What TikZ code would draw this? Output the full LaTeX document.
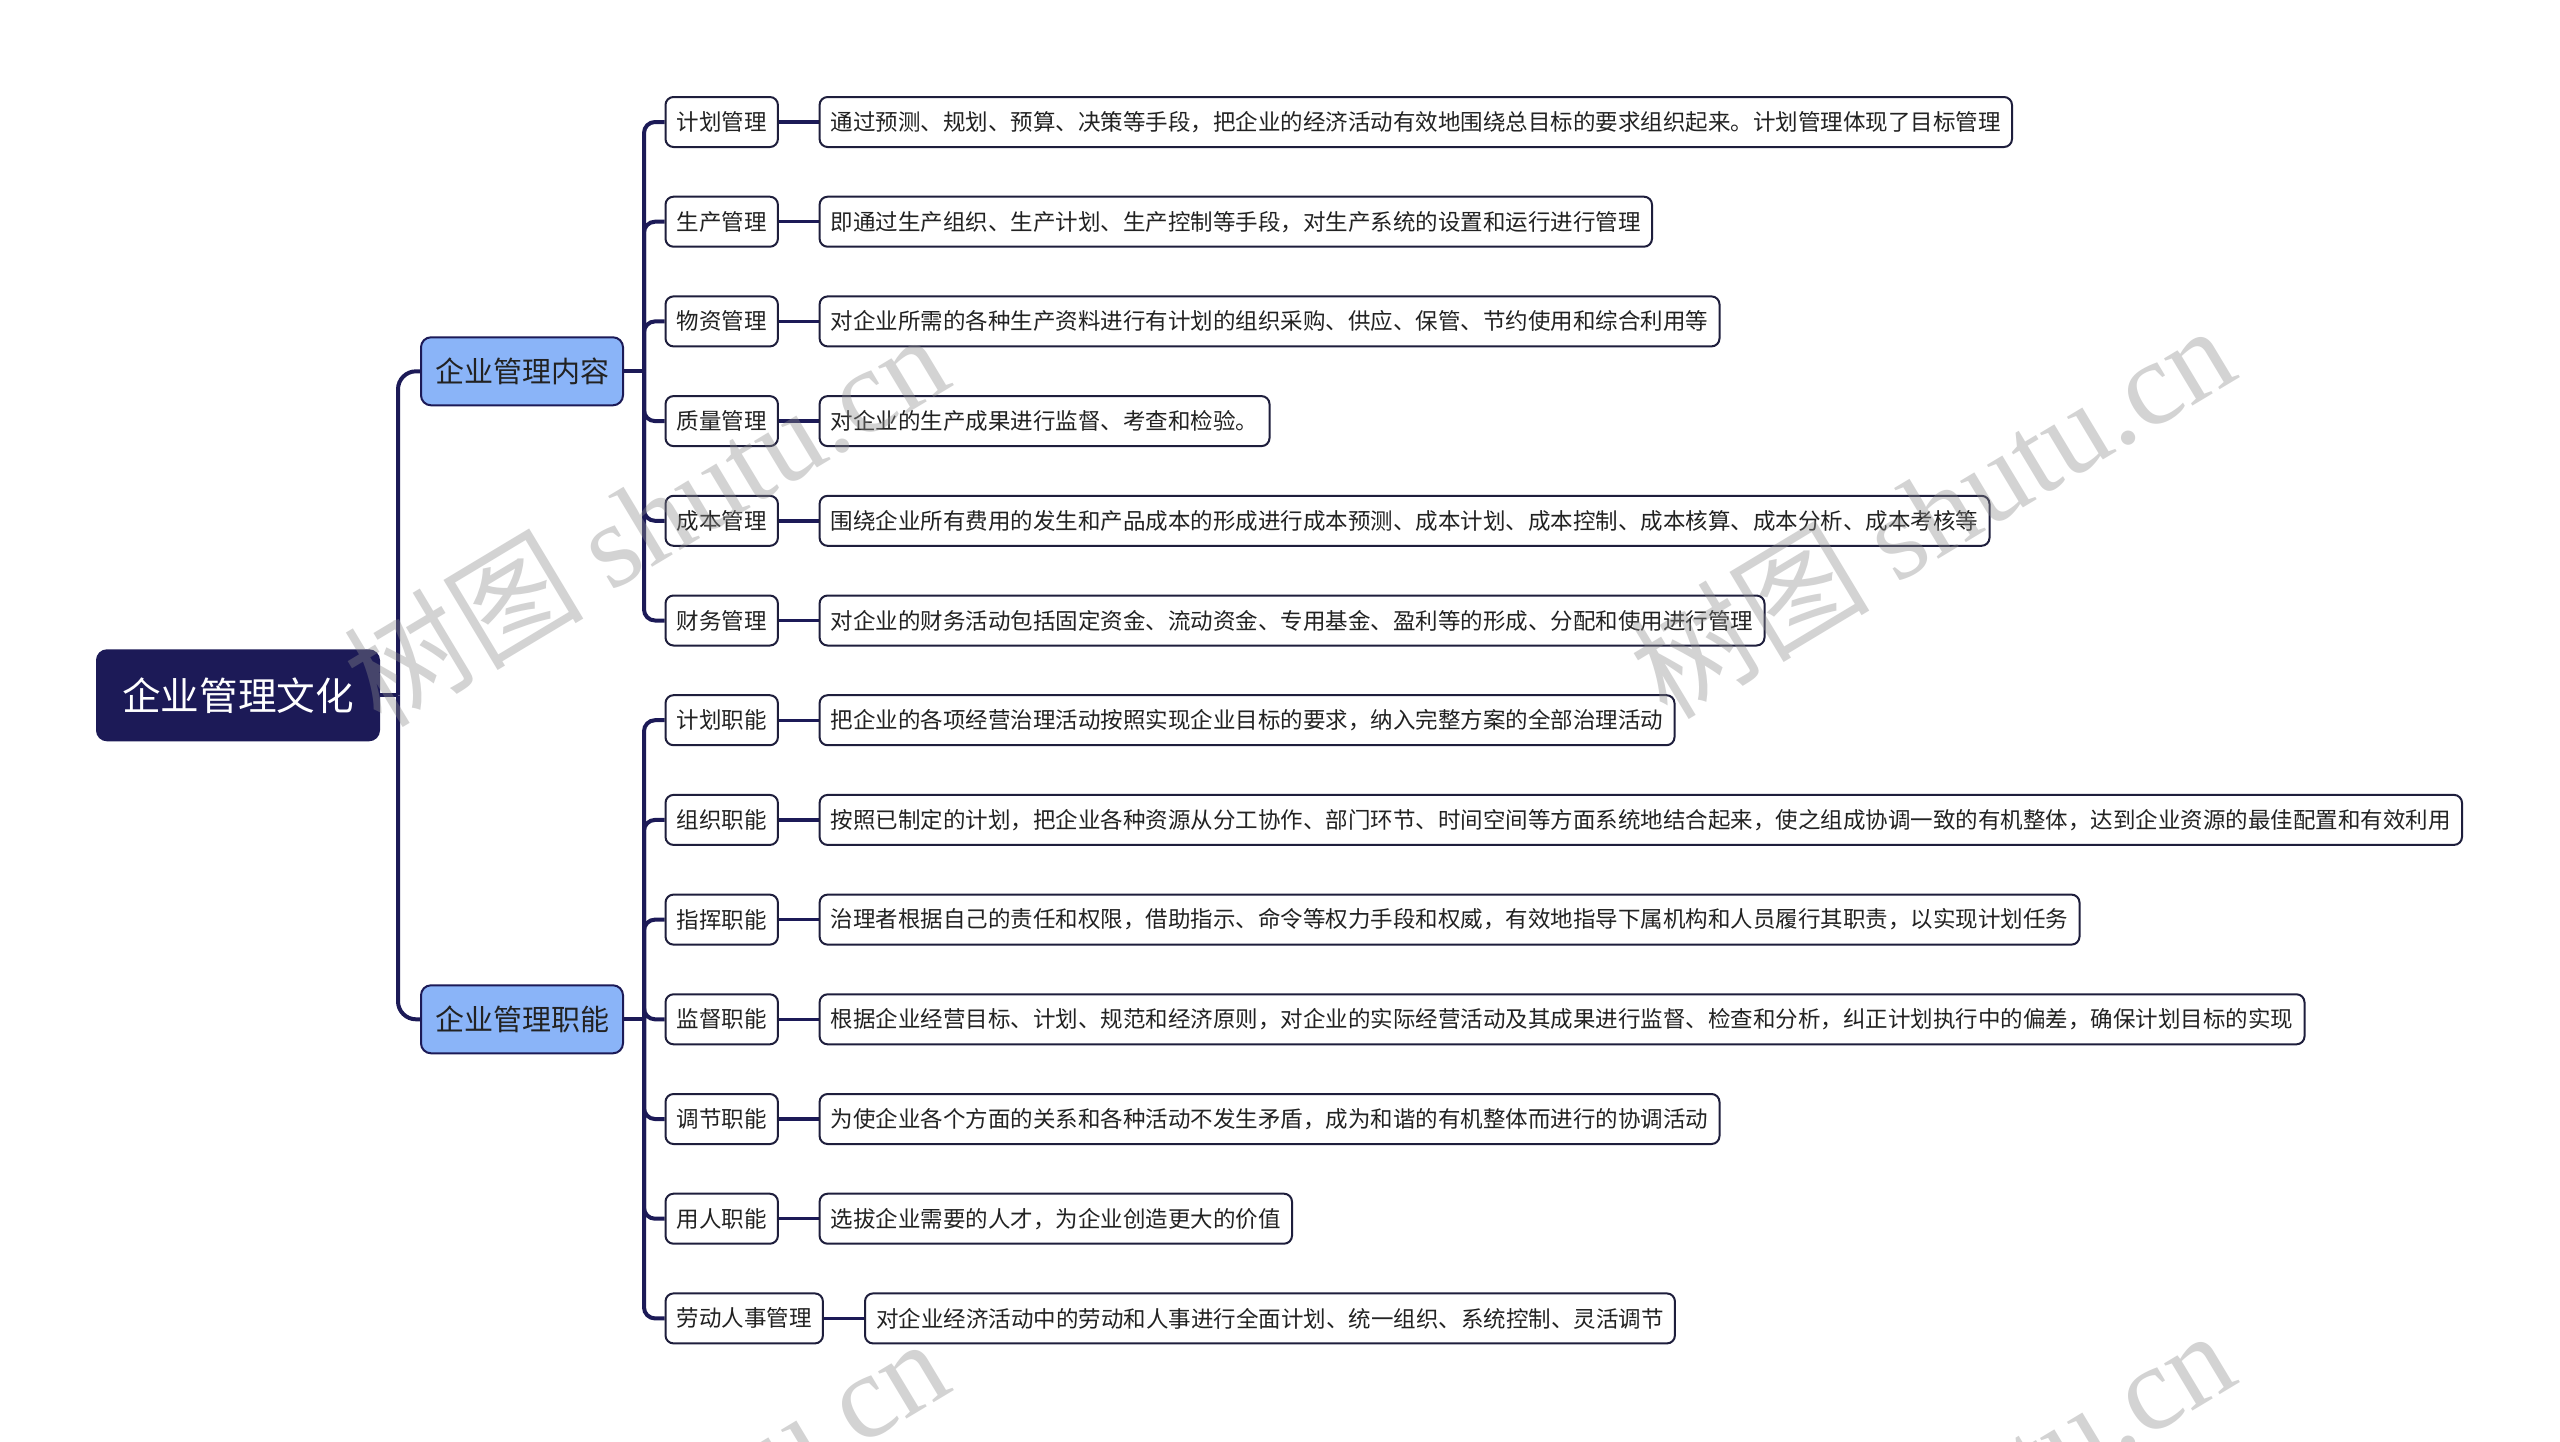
\documentclass[tikz,border=0pt]{standalone}
\usepackage{fontspec}
\setmainfont{Noto Sans CJK SC}
\newfontfamily\wmlatin{Liberation Serif}
\newfontfamily\wmcjk{Noto Sans CJK SC}
\definecolor{navy}{HTML}{1C1A57}
\definecolor{lblue}{HTML}{8AB4F8}
\definecolor{bord}{HTML}{1E1E3C}
\definecolor{txt}{HTML}{222222}
\pgfdeclarelayer{back}
\pgfsetlayers{back,main}
\tikzset{
  rootbox/.style={draw=navy, line width=1pt, fill=navy, rounded corners=5pt, text=white,
    font=\fontsize{19.3pt}{22pt}\selectfont, inner xsep=12.6pt, inner ysep=0pt,
    minimum height=45pt, anchor=west},
  mainbox/.style={draw=navy, line width=1pt, fill=lblue, rounded corners=5pt, text=txt,
    font=\fontsize{14.5pt}{17pt}\selectfont, inner xsep=7pt, inner ysep=0pt,
    minimum height=34pt, anchor=west},
  subbox/.style={draw=bord, line width=1pt, fill=white, rounded corners=4pt, text=txt,
    font=\fontsize{11.25pt}{13pt}\selectfont, inner xsep=5.6pt, inner ysep=0pt,
    minimum height=25pt, anchor=west},
  conn/.style={draw=navy, line width=2pt, rounded corners=9pt},
  conn2/.style={draw=navy, line width=2pt, rounded corners=5.5pt},
  conn3/.style={draw=navy, line width=1.7pt},
  wm/.style={text=black!45, text opacity=0.38, font=\fontsize{60pt}{66pt}\selectfont,
    inner sep=0pt, rotate=31}
}
\begin{document}
\begin{tikzpicture}[x=0.5pt,y=-0.5pt]
\useasboundingbox (0,0) rectangle (2560,1441);

% root and main branches
\node[rootbox] (R) at (96,695.3) {企业管理文化};
\node[mainbox] (A) at (420,371.3) {企业管理内容};
\node[mainbox] (B) at (420,1019.3) {企业管理职能};

% level 2
\node[subbox] (a1) at (664.5,122) {计划管理};
\node[subbox] (a2) at (664.5,221.7) {生产管理};
\node[subbox] (a3) at (664.5,321.4) {物资管理};
\node[subbox] (a4) at (664.5,421.1) {质量管理};
\node[subbox] (a5) at (664.5,520.8) {成本管理};
\node[subbox] (a6) at (664.5,620.5) {财务管理};
\node[subbox] (b1) at (664.5,720.2) {计划职能};
\node[subbox] (b2) at (664.5,819.9) {组织职能};
\node[subbox] (b3) at (664.5,919.6) {指挥职能};
\node[subbox] (b4) at (664.5,1019.3) {监督职能};
\node[subbox] (b5) at (664.5,1119) {调节职能};
\node[subbox] (b6) at (664.5,1218.7) {用人职能};
\node[subbox] (b7) at (664.5,1318.4) {劳动人事管理};

% level 3
\node[subbox] (ta1) at (818.6,122) {通过预测、规划、预算、决策等手段，把企业的经济活动有效地围绕总目标的要求组织起来。计划管理体现了目标管理};
\node[subbox] (ta2) at (818.6,221.7) {即通过生产组织、生产计划、生产控制等手段，对生产系统的设置和运行进行管理};
\node[subbox] (ta3) at (818.6,321.4) {对企业所需的各种生产资料进行有计划的组织采购、供应、保管、节约使用和综合利用等};
\node[subbox] (ta4) at (818.6,421.1) {对企业的生产成果进行监督、考查和检验。};
\node[subbox] (ta5) at (818.6,520.8) {围绕企业所有费用的发生和产品成本的形成进行成本预测、成本计划、成本控制、成本核算、成本分析、成本考核等};
\node[subbox] (ta6) at (818.6,620.5) {对企业的财务活动包括固定资金、流动资金、专用基金、盈利等的形成、分配和使用进行管理};
\node[subbox] (tb1) at (818.6,720.2) {把企业的各项经营治理活动按照实现企业目标的要求，纳入完整方案的全部治理活动};
\node[subbox] (tb2) at (818.6,819.9) {按照已制定的计划，把企业各种资源从分工协作、部门环节、时间空间等方面系统地结合起来，使之组成协调一致的有机整体，达到企业资源的最佳配置和有效利用};
\node[subbox] (tb3) at (818.6,919.6) {治理者根据自己的责任和权限，借助指示、命令等权力手段和权威，有效地指导下属机构和人员履行其职责，以实现计划任务};
\node[subbox] (tb4) at (818.6,1019.3) {根据企业经营目标、计划、规范和经济原则，对企业的实际经营活动及其成果进行监督、检查和分析，纠正计划执行中的偏差，确保计划目标的实现};
\node[subbox] (tb5) at (818.6,1119) {为使企业各个方面的关系和各种活动不发生矛盾，成为和谐的有机整体而进行的协调活动};
\node[subbox] (tb6) at (818.6,1218.7) {选拔企业需要的人才，为企业创造更大的价值};
\node[subbox] (tb7) at (864,1318.4) {对企业经济活动中的劳动和人事进行全面计划、统一组织、系统控制、灵活调节};

\coordinate (sR) at (398,695.3);
\coordinate (sA) at (644,371.3);
\coordinate (sB) at (644,1019.3);

\begin{pgfonlayer}{back}
  \fill[white] (0,0) rectangle (2560,1441);
  \draw[conn] (R.east) -- (sR);
  \draw[conn] (sR) |- (A.west);
  \draw[conn] (sR) |- (B.west);
  \draw[conn] (A.east) -- (sA);
  \draw[conn] (B.east) -- (sB);
  \foreach \n in {a1,a2,a3,a4,a5,a6} \draw[conn2] (sA) |- (\n.west);
  \foreach \n in {b1,b2,b3,b4,b5,b6,b7} \draw[conn2] (sB) |- (\n.west);
  \foreach \n in {a1,a2,a3,a4,a5,a6,b1,b2,b3,b4,b5,b6,b7} \draw[conn3] (\n.east) -- (t\n.west);
\end{pgfonlayer}

% watermarks
\node[wm] (w1) at (645,518) {{\wmcjk 树图} {\wmlatin shutu.cn}};
\node[wm] (w2) at (1931,510) {{\wmcjk 树图} {\wmlatin shutu.cn}};
\node[wm] (w3) at (645,1523) {{\wmcjk 树图} {\wmlatin shutu.cn}};
\node[wm] (w4) at (1931,1515) {{\wmcjk 树图} {\wmlatin shutu.cn}};
\end{tikzpicture}
\end{document}
